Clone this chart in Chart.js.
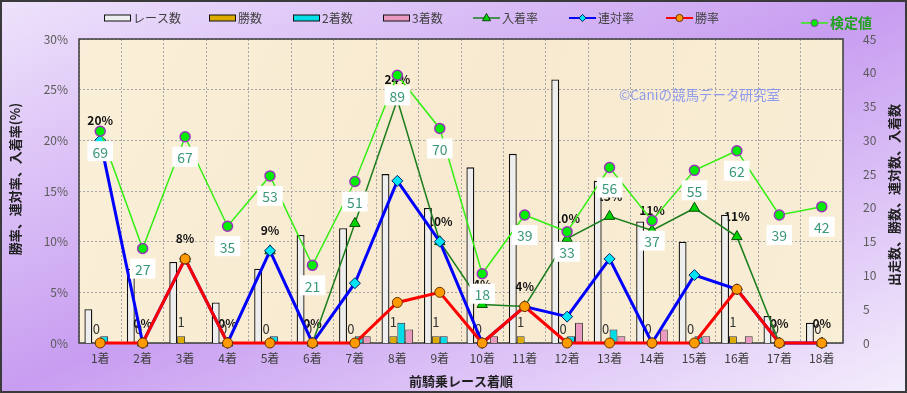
<!DOCTYPE html>
<html><head><meta charset="utf-8">
<script src="https://cdn.jsdelivr.net/npm/chart.js@4/dist/chart.umd.min.js"></script>
<style>html,body{margin:0;padding:0;background:#fff}canvas{display:block}</style>
</head><body>
<canvas id="c" width="907" height="393"></canvas>
<script>
const categories = ['1着','2着','3着','4着','5着','6着','7着','8着','9着','10着','11着','12着','13着','14着','15着','16着','17着','18着'];
const raceCounts   = [5,11,12,6,11,16,17,25,20,26,28,39,24,18,15,19,4,3];
const winCounts    = [0,0,1,0,0,0,0,1,1,0,1,0,0,0,0,1,0,0];
const secondCounts = [1,0,0,0,1,0,1,3,1,0,0,1,2,0,1,0,0,0];
const thirdCounts  = [0,0,0,0,0,0,1,2,0,1,0,3,1,2,1,1,0,0];
const placeRate    = [20,0,8.3,0,9.1,0,11.8,24,10,3.8,3.6,10.3,12.5,11.1,13.3,10.5,0,0];
const rentaiRate   = [20,0,8.3,0,9.1,0,5.9,16,10,0,3.6,2.6,8.3,0,6.7,5.3,0,0];
const winRate      = [0,0,8.3,0,0,0,0,4.0,5.0,0,3.6,0,0,0,0,5.3,0,0];
const placeRateLabels = ['20%','0%','8%','0%','9%','0%','12%','24%','10%','4%','4%','10%','13%','11%','13%','11%','0%','0%'];
const testValues   = [69,27,67,35,53,21,51,89,70,18,39,33,56,37,55,62,39,42];
const winCountLabels = ['0','0','1','0','0','0','0','1','1','0','1','0','0','0','0','1','0','0'];
const leftAxisTitle = '勝率、連対率、入着率(%)';
const rightAxisTitle = '出走数、勝数、連対数、入着数';
const xAxisTitle = '前騎乗レース着順';
const watermark = '©Caniの競馬データ研究室';

const FF = "'Noto Sans CJK JP','Noto Sans',sans-serif";

function drawMarker(ctx, style, x, y, r, fill, stroke, lw) {
  ctx.save();
  ctx.fillStyle = fill; ctx.strokeStyle = stroke; ctx.lineWidth = lw;
  ctx.beginPath();
  if (style === 'circle') ctx.arc(x, y, r, 0, Math.PI*2);
  else if (style === 'rectRot') { ctx.moveTo(x-r,y); ctx.lineTo(x,y-r); ctx.lineTo(x+r,y); ctx.lineTo(x,y+r); ctx.closePath(); }
  else if (style === 'triangle') { ctx.moveTo(x, y-r); ctx.lineTo(x+r*0.9, y+r*0.6); ctx.lineTo(x-r*0.9, y+r*0.6); ctx.closePath(); }
  ctx.fill(); ctx.stroke();
  ctx.restore();
}

const legendPos = [
  {x:104, y:18}, {x:209, y:18}, {x:293, y:18}, {x:383, y:18},
  {x:473, y:18}, {x:569, y:18}, {x:666, y:18}, {x:801, y:23}
];

const custom = {
  id: 'custom',
  beforeDraw(chart) {
    const {ctx, chartArea: a, width: W, height: H} = chart;
    ctx.save();
    const k = 2*W*H/(W*W+H*H);
    const g = ctx.createLinearGradient(0, 0, k*H, k*W);
    g.addColorStop(0, '#eee3fb');
    g.addColorStop(0.5, '#c89df1');
    g.addColorStop(1, '#f4eefc');
    ctx.fillStyle = g; ctx.fillRect(0, 0, W, H);
    const pg = ctx.createLinearGradient(a.left, a.top, a.right, a.bottom);
    pg.addColorStop(0, '#faefd8'); pg.addColorStop(0.5, '#f7ead0'); pg.addColorStop(1, '#f9eed6');
    ctx.fillStyle = pg;
    ctx.fillRect(a.left, a.top, a.right - a.left, a.bottom - a.top);
    ctx.restore();
  },
  beforeDatasetsDraw(chart) {
    const {ctx, chartArea: a} = chart;
    ctx.save();
    ctx.strokeStyle = '#3c3c3c'; ctx.lineWidth = 1.5;
    ctx.strokeRect(a.left, a.top, a.right - a.left, a.bottom - a.top);
    ctx.font = '13.5px ' + FF; ctx.fillStyle = 'rgba(125,140,240,0.85)';
    ctx.textAlign = 'left'; ctx.textBaseline = 'middle';
    ctx.fillText(watermark, 619, 95);
    const mPlace = chart.getDatasetMeta(4);
    ctx.font = 'bold 12px ' + FF; ctx.fillStyle = '#111'; ctx.textAlign = 'center';
    mPlace.data.forEach((p, i) => ctx.fillText(placeRateLabels[i], p.x, p.y - 20));
    const mWin = chart.getDatasetMeta(1);
    ctx.font = '13px ' + FF; ctx.fillStyle = '#333';
    mWin.data.forEach((b, i) => ctx.fillText(winCountLabels[i], b.x, b.y - 14));
    ctx.restore();
  },
  afterDatasetsDraw(chart) {
    const {ctx} = chart;
    const m = chart.getDatasetMeta(7);
    ctx.save();
    ctx.font = '14px ' + FF; ctx.textAlign = 'center'; ctx.textBaseline = 'middle';
    m.data.forEach((p, i) => {
      const t = String(testValues[i]);
      const w = ctx.measureText(t).width + 10;
      const cy = p.y + 20;
      ctx.fillStyle = '#ffffff';
      ctx.fillRect(p.x - w/2, cy - 10, w, 20);
      ctx.fillStyle = '#3a9878';
      ctx.fillText(t, p.x, cy + 1);
    });
    ctx.restore();
  },
  afterDraw(chart) {
    const {ctx, width: W, height: H} = chart;
    ctx.save();
    chart.data.datasets.forEach((ds, i) => {
      const pos = legendPos[i];
      if (ds.type === 'line') {
        ctx.strokeStyle = ds.borderColor; ctx.lineWidth = Math.min(ds.borderWidth, 2);
        ctx.beginPath(); ctx.moveTo(pos.x, pos.y); ctx.lineTo(pos.x + 27, pos.y); ctx.stroke();
        drawMarker(ctx, ds.pointStyle, pos.x + 13.5, pos.y, ds.pointStyle === 'triangle' ? 4.5 : 3.6, ds.pointBackgroundColor, ds.pointBorderColor, 1);
      } else {
        ctx.fillStyle = ds.backgroundColor; ctx.strokeStyle = '#111'; ctx.lineWidth = 1;
        ctx.fillRect(pos.x, pos.y - 3, 27, 6); ctx.strokeRect(pos.x + 0.5, pos.y - 3, 26, 6);
      }
      if (i === 7) { ctx.font = 'bold 14px ' + FF; ctx.fillStyle = '#22a022'; }
      else { ctx.font = '12px ' + FF; ctx.fillStyle = '#404040'; }
      ctx.textAlign = 'left'; ctx.textBaseline = 'middle';
      ctx.fillText(ds.label, pos.x + 29, pos.y);
    });
    ctx.fillStyle = '#202020'; ctx.font = 'bold 13px ' + FF;
    ctx.textAlign = 'center'; ctx.textBaseline = 'middle';
    ctx.save(); ctx.translate(15, 179); ctx.rotate(-Math.PI/2); ctx.fillText(leftAxisTitle, 0, 0); ctx.restore();
    ctx.save(); ctx.translate(894, 195); ctx.rotate(-Math.PI/2); ctx.fillText(rightAxisTitle, 0, 0); ctx.restore();
    ctx.fillText(xAxisTitle, 461, 381);
    ctx.strokeStyle = '#3a3a3a'; ctx.lineWidth = 2;
    ctx.strokeRect(1, 1, W - 2, H - 2);
    ctx.restore();
  }
};

const gridStyle = { color: '#a6a6a6', lineWidth: 1, drawTicks: false };

new Chart(document.getElementById('c'), {
  type: 'bar',
  data: {
    labels: categories,
    datasets: [
      { label: 'レース数', data: raceCounts, yAxisID: 'y1', backgroundColor: '#eeeeee', borderColor: '#111', borderWidth: 1.3, order: 4 },
      { label: '勝数', data: winCounts, yAxisID: 'y1', backgroundColor: '#dcaa00', borderColor: '#333', borderWidth: 1, order: 5 },
      { label: '2着数', data: secondCounts, yAxisID: 'y1', backgroundColor: '#00dde6', borderColor: '#224', borderWidth: 1, order: 6 },
      { label: '3着数', data: thirdCounts, yAxisID: 'y1', backgroundColor: '#ea98c0', borderColor: '#333', borderWidth: 1, order: 7 },
      { type: 'line', label: '入着率', data: placeRate, yAxisID: 'y', borderColor: '#1b7d1b', borderWidth: 1.5,
        pointStyle: 'triangle', pointRadius: 6, pointBackgroundColor: '#00d400', pointBorderColor: '#0a4a0a', pointBorderWidth: 1, tension: 0, clip: false, order: 3 },
      { type: 'line', label: '連対率', data: rentaiRate, yAxisID: 'y', borderColor: '#0000ff', borderWidth: 3,
        pointStyle: 'rectRot', pointRadius: 5.5, pointBackgroundColor: '#00e5f5', pointBorderColor: '#00206a', pointBorderWidth: 1, tension: 0, clip: false, order: 2 },
      { type: 'line', label: '勝率', data: winRate, yAxisID: 'y', borderColor: '#ff0000', borderWidth: 3,
        pointStyle: 'circle', pointRadius: 5, pointBackgroundColor: '#ff9a00', pointBorderColor: '#6a3000', pointBorderWidth: 1, tension: 0, clip: false, order: 1 },
      { type: 'line', label: '検定値', data: testValues, yAxisID: 'y2', borderColor: '#33ee11', borderWidth: 1.5,
        pointStyle: 'circle', pointRadius: 5, pointBackgroundColor: '#00ee00', pointBorderColor: '#9a33bb', pointBorderWidth: 1.5, tension: 0, clip: false, order: 0 }
    ]
  },
  options: {
    responsive: false,
    animation: false,
    devicePixelRatio: 1,
    layout: { padding: { top: 39, left: 0, right: 0, bottom: 0 } },
    datasets: { bar: { categoryPercentage: 0.745, barPercentage: 1 } },
    plugins: { legend: { display: false }, tooltip: { enabled: false }, title: { display: false } },
    scales: {
      x: {
        offset: true,
        grid: { ...gridStyle, offset: true },
        border: { display: false, dash: [2, 2] },
        ticks: { font: { size: 12, family: FF }, color: '#404040', padding: 8, maxRotation: 0, autoSkip: false },
        afterFit(s) { s.height = 50; }
      },
      y: {
        position: 'left', min: 0, max: 30,
        grid: gridStyle,
        border: { display: false, dash: [2, 2] },
        ticks: { stepSize: 5, font: { size: 12, family: FF }, color: '#5a5a5a', padding: 11, callback: v => v + '%' },
        afterFit(s) { s.width = 79; }
      },
      y1: {
        position: 'right', min: 0, max: 45,
        grid: { display: false, drawOnChartArea: false },
        border: { display: false },
        ticks: { stepSize: 5, font: { size: 12, family: FF }, color: '#5a5a5a', padding: 12 },
        afterFit(s) { s.width = 64; }
      },
      y2: { display: false, min: -6.8, max: 102 }
    }
  },
  plugins: [custom]
});
</script>
</body></html>
